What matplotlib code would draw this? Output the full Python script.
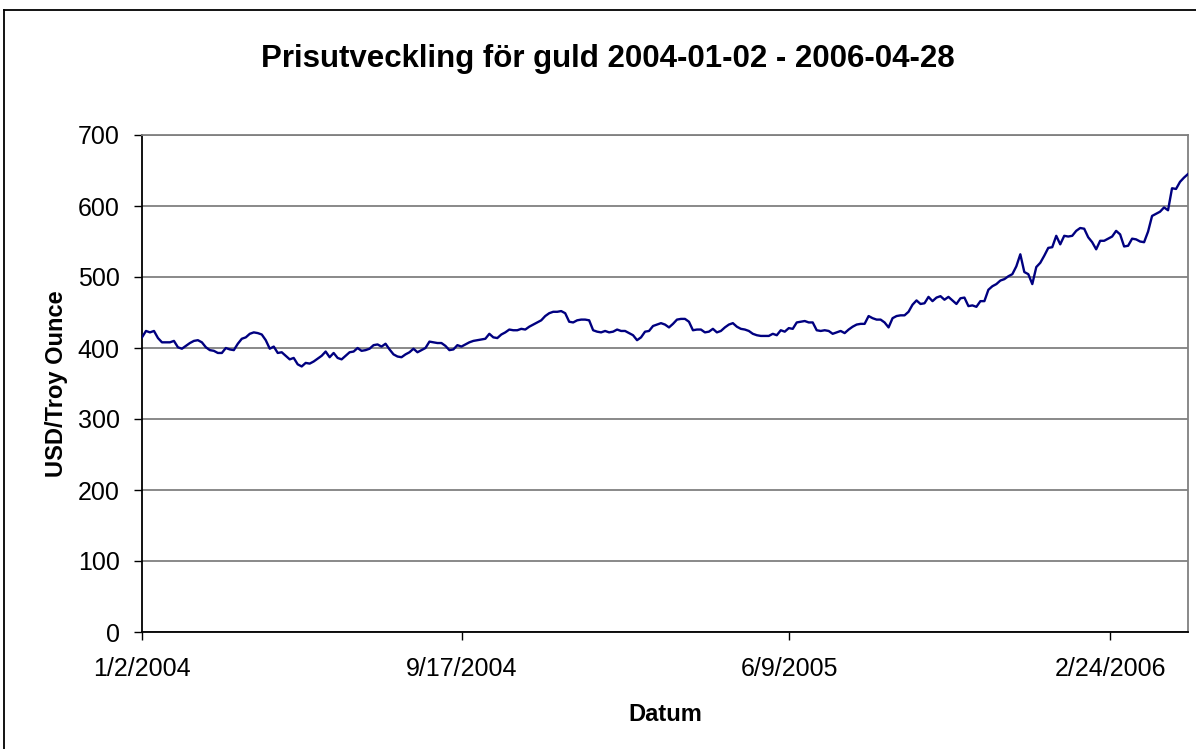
import matplotlib
matplotlib.use("Agg")
import matplotlib.pyplot as plt
from matplotlib.lines import Line2D
import pandas as pd

plt.rcParams["font.family"] = ["Liberation Sans", "DejaVu Sans"]

# gold price, USD / troy ounce at evenly spaced dates
start_date = "2004-01-02"
end_date = "2006-04-28"
tick_dates = ["2004-01-02", "2004-09-17", "2005-06-09", "2006-02-24"]
y_ticks = [0, 100, 200, 300, 400, 500, 600, 700]

price = [
    415, 424, 422, 424, 414, 408, 408, 408, 410, 401,
    399, 403, 407, 410, 411, 408, 401, 397, 396, 393,
    393, 400, 398, 397, 406, 413, 415, 420, 422, 421,
    419, 411, 399, 402, 393, 394, 389, 384, 386, 377,
    374, 379, 378, 381, 385, 389, 395, 387, 393, 386,
    384, 389, 394, 395, 400, 396, 397, 399, 404, 405,
    402, 406, 398, 391, 388, 387, 391, 394, 399, 394,
    397, 400, 409, 408, 407, 407, 403, 397, 398, 404,
    402, 405, 408, 410, 411, 412, 413, 420, 415, 414,
    419, 422, 426, 425, 425, 427, 426, 430, 433, 436,
    439, 445, 449, 451, 451, 452, 449, 437, 436, 439,
    440, 440, 439, 425, 423, 422, 424, 422, 423, 426,
    424, 424, 421, 418, 411, 415, 423, 424, 431, 433,
    435, 433, 429, 434, 440, 441, 441, 437, 425, 426,
    426, 422, 423, 427, 422, 424, 429, 433, 435, 430,
    427, 426, 424, 420, 418, 417, 417, 417, 420, 418,
    425, 423, 428, 427, 436, 437, 438, 436, 436, 425,
    424, 425, 424, 420, 422, 424, 421, 426, 430, 433,
    434, 434, 445, 442, 440, 440, 436, 429, 442, 445,
    446, 446, 451, 461, 467, 462, 463, 472, 466, 471,
    473, 468, 472, 467, 462, 470, 471, 459, 460, 458,
    466, 466, 482, 487, 490, 495, 497, 501, 504, 515,
    532, 507, 504, 490, 514, 520, 530, 541, 542, 558,
    546, 558, 557, 558, 565, 569, 568, 556, 549, 539,
    551, 551, 554, 557, 565, 560, 543, 544, 554, 553,
    550, 549, 564, 586, 589, 592, 598, 594, 625, 624,
    634, 640, 645,
]

dates = pd.date_range(start_date, end_date, periods=len(price))
tick_pos = [pd.Timestamp(d) for d in tick_dates]
tick_labels = [f"{d.month}/{d.day}/{d.year}" for d in tick_pos]

W, H = 1196, 749
fig = plt.figure(figsize=(W / 100, H / 100), dpi=100)
fig.patch.set_facecolor("white")

ax = fig.add_axes([142 / W, 1 - 632 / H, (1188 - 142) / W, (632 - 135) / H])
ax.plot(dates, price, color="#000080", linewidth=1.7, zorder=3)

ax.set_xlim(pd.Timestamp(start_date), pd.Timestamp(end_date))
ax.set_ylim(0, 700)
ax.set_yticks(y_ticks)
ax.set_xticks(tick_pos)
ax.set_xticklabels(tick_labels)

ax.yaxis.grid(True, color="#808080", linewidth=1.3)
ax.set_axisbelow(True)
for side in ("left", "bottom"):
    ax.spines[side].set_color("black")
    ax.spines[side].set_linewidth(1.3)
for side in ("top", "right"):
    ax.spines[side].set_color("#808080")
    ax.spines[side].set_linewidth(1.3)

ax.tick_params(axis="both", direction="out", length=6, width=1, labelsize=18, color="black")
ax.tick_params(axis="y", pad=10)
ax.tick_params(axis="x", pad=12)

ax.set_xlabel("Datum", fontsize=17, fontweight="bold", labelpad=16)
ax.set_ylabel("USD/Troy Ounce", fontsize=17, fontweight="bold", labelpad=7)

fig.text(608 / W, 1 - 59 / H, "Prisutveckling för guld 2004-01-02 - 2006-04-28",
         ha="center", va="center", fontsize=22.5, fontweight="bold")

# outer chart border (only top and left edges fall inside the picture)
fig.add_artist(Line2D([4 / W, 4 / W], [0, 1 - 10 / H], transform=fig.transFigure, color="black", linewidth=1.3))
fig.add_artist(Line2D([4 / W, 1], [1 - 10 / H, 1 - 10 / H], transform=fig.transFigure, color="black", linewidth=1.3))

fig.savefig("out.png", dpi=100)
